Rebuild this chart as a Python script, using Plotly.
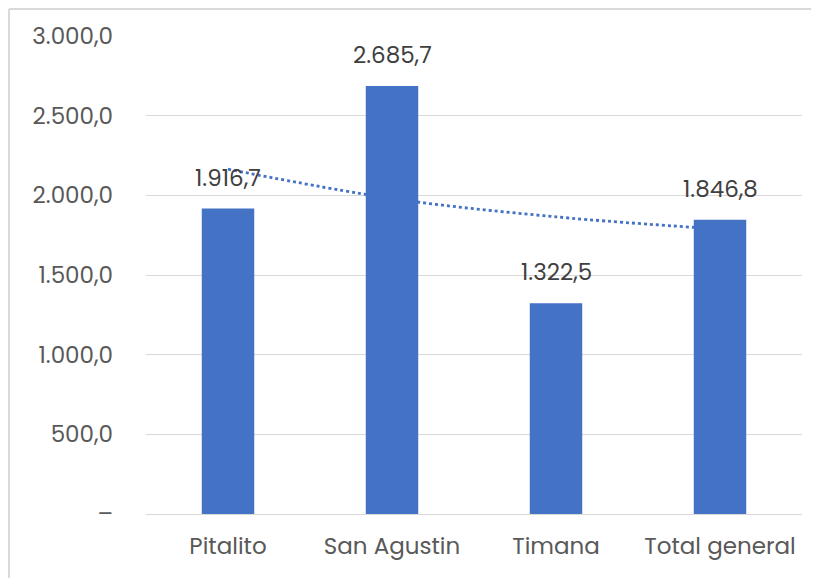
import plotly.graph_objects as go

# datos
municipios = ["Pitalito", "San Agustin", "Timana", "Total general"]
valores = [1916.7, 2685.7, 1322.5, 1846.8]
etiquetas = ["1.916,7", "2.685,7", "1.322,5", "1.846,8"]
tendencia = [2164, 1980, 1865, 1788]   # linea de tendencia (log)
ticks_y = [0, 500, 1000, 1500, 2000, 2500, 3000]
ticks_y_txt = ["–", "500,0", "1.000,0", "1.500,0", "2.000,0", "2.500,0", "3.000,0"]

azul = "#4472C4"
fuente = "Poppins, Lato, 'Open Sans', sans-serif"

fig = go.Figure()

fig.add_trace(go.Bar(x=municipios, y=valores, marker_color=azul,
                     marker_line_width=0, width=0.32, hoverinfo="skip"))

fig.add_trace(go.Scatter(x=municipios, y=tendencia, mode="lines",
                         line={"color": azul, "width": 2.8, "dash": "dot", "shape": "spline"},
                         hoverinfo="skip"))

#etiquetas de datos sobre las barras
for m, v, t in zip(municipios, valores, etiquetas):
    fig.add_annotation(x=m, y=v, text=t, showarrow=False, yshift=31,
                       font={"size": 23, "color": "#404040", "family": fuente})

# borde del grafico (solo se ven el izquierdo y el superior)
borde = {"color": "#D9D9D9", "width": 2}
fig.add_shape(type="line", xref="paper", yref="paper",
              x0=-0.2088, x1=-0.2088, y0=-0.2, y1=1.0565, line=borde)
fig.add_shape(type="line", xref="paper", yref="paper",
              x0=-0.2088, x1=1.1, y0=1.0565, y1=1.0565, line=borde)

# la pagina deja 8px de margen, por eso la figura es un poco mas chica
fig.update_layout(
    width=811, height=570, showlegend=False,
    paper_bgcolor="white", plot_bgcolor="white",
    margin={"l": 138, "r": 17, "t": 28, "b": 64},
    font={"family": fuente},
)

fig.update_xaxes(showgrid=False, showline=False, ticks="", ticklabelstandoff=16,
                 tickfont={"size": 23, "color": "#595959", "family": fuente})
fig.update_yaxes(range=[0, 3000], tickvals=ticks_y, ticktext=ticks_y_txt,
                 showgrid=True, gridcolor="#D9D9D9", gridwidth=1,
                 zeroline=True, zerolinecolor="#D9D9D9", zerolinewidth=1,
                 showline=False, ticklabelstandoff=32,
                 tickfont={"size": 23, "color": "#595959", "family": fuente})

fig.write_html("out.html")
